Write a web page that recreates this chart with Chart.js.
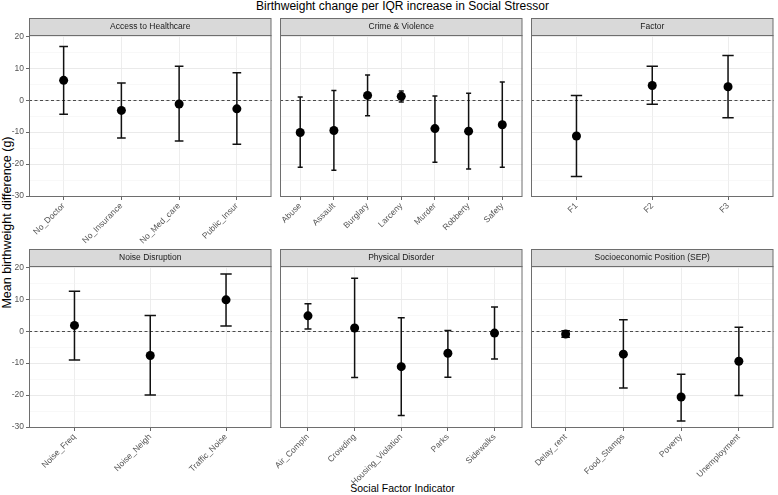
<!DOCTYPE html>
<html>
<head>
<meta charset="utf-8">
<script src="https://cdn.jsdelivr.net/npm/chart.js@4.4.1/dist/chart.umd.min.js"></script>
<style>
  body { margin: 0; background: #fff; }
  #wrap { position: relative; width: 778px; height: 495px; overflow: hidden;
          font-family: "Liberation Sans", Arial, sans-serif; color: #000; }
  #wrap canvas { position: absolute; }
  #mainTitle { position: absolute; left: 29px; width: 747px; top: -1px; font-size: 12px;
               line-height: 14px; text-align: center; }
  #xTitle { position: absolute; left: 29px; width: 747px; top: 482px; font-size: 10.5px;
            line-height: 13px; text-align: center; }
  #yTitle { position: absolute; left: -198px; width: 410px; top: 215px; font-size: 12.5px;
            line-height: 15px; text-align: center; transform: rotate(-90deg); }
</style>
</head>
<body>
<div id="wrap">
  <div id="mainTitle">Birthweight change per IQR increase in Social Stressor</div>
  <div id="yTitle">Mean birthweight difference (g)</div>
  <div id="xTitle">Social Factor Indicator</div>
</div>
<script>
/* ---------- данные (читаются с картинки) ---------- */
const panelTitles = ["Access to Healthcare", "Crime & Violence", "Factor",
                     "Noise Disruption", "Physical Disorder", "Socioeconomic Position (SEP)"];

const accessLabels = ["No_Doctor", "No_Insurance", "No_Med_care", "Public_Insur"];
const accessEst  = [6.2, -3.2, -1.2, -2.7];
const accessLow  = [-4.4, -11.8, -12.8, -13.8];
const accessHigh = [16.8, 5.4, 10.6, 8.6];

const crimeLabels = ["Abuse", "Assault", "Burglary", "Larceny", "Murder", "Robberty", "Safety"];
const crimeEst  = [-10.1, -9.5, 1.5, 1.2, -8.9, -9.7, -7.7];
const crimeLow  = [-21.0, -21.9, -4.9, -0.6, -19.4, -21.5, -21.0];
const crimeHigh = [1.0, 3.0, 7.9, 2.9, 1.3, 2.2, 5.7];

const factorLabels = ["F1", "F2", "F3"];
const factorEst  = [-11.2, 4.6, 4.2];
const factorLow  = [-23.9, -1.3, -5.5];
const factorHigh = [1.5, 10.6, 14.0];

const noiseLabels = ["Noise_Freq", "Noise_Neigh", "Traffic_Noise"];
const noiseEst  = [1.8, -7.6, 9.8];
const noiseLow  = [-9.0, -20.0, 1.6];
const noiseHigh = [12.5, 4.9, 17.9];

const physLabels = ["Air_Compln", "Crowding", "Housing_Violation", "Parks", "Sidewalks"];
const physEst  = [4.8, 1.0, -11.1, -6.9, -0.6];
const physLow  = [0.7, -14.5, -26.4, -14.4, -8.7];
const physHigh = [8.6, 16.6, 4.2, 0.2, 7.6];

const sepLabels = ["Delay_rent", "Food_Stamps", "Poverty", "Unemployment"];
const sepEst  = [-0.9, -7.2, -20.6, -9.4];
const sepLow  = [-1.9, -17.8, -28.1, -20.1];
const sepHigh = [0.1, 3.6, -13.5, 1.2];

const yTicks = [-30, -25, -20, -15, -10, -5, 0, 5, 10, 15, 20];
const yMin = -30.3, yMax = 20.4;
const refLine = 0;

/* ---------- раскладка панелей ---------- */
const colLeft = [29, 280, 531];
const stripTop = [18, 249];
const plotW = 245, plotH = 162, stripH = 17, yAxisW = 30, xAxisH = 70;

Chart.defaults.font.family = "'Liberation Sans', Arial, sans-serif";

const panels = [
  [accessLabels, accessEst, accessLow, accessHigh],
  [crimeLabels, crimeEst, crimeLow, crimeHigh],
  [factorLabels, factorEst, factorLow, factorHigh],
  [noiseLabels, noiseEst, noiseLow, noiseHigh],
  [physLabels, physEst, physLow, physHigh],
  [sepLabels, sepEst, sepLow, sepHigh]
];

// Плагин: пунктир по нулю, усы, рамка панели и полоска с заголовком
function facetPlugin(title, low, high) {
  return {
    id: "facet",
    beforeDatasetsDraw(chart) {
      const { ctx, chartArea: a, scales: { x, y } } = chart;
      ctx.save();
      ctx.strokeStyle = "#3a3a3a";
      ctx.lineWidth = 0.9;
      ctx.setLineDash([3, 2.5]);
      const y0 = Math.round(y.getPixelForValue(refLine)) + 0.5;
      ctx.beginPath();
      ctx.moveTo(a.left, y0);
      ctx.lineTo(a.right, y0);
      ctx.stroke();
      ctx.setLineDash([]);

      ctx.strokeStyle = "#111";
      ctx.lineWidth = 1.5;
      low.forEach((lo, i) => {
        const px = x.getPixelForValue(i);
        const w = x.getPixelForValue(i + 0.075) - px;
        const pl = y.getPixelForValue(lo);
        const ph = y.getPixelForValue(high[i]);
        ctx.beginPath();
        ctx.moveTo(px, pl); ctx.lineTo(px, ph);
        ctx.moveTo(px - w, pl); ctx.lineTo(px + w, pl);
        ctx.moveTo(px - w, ph); ctx.lineTo(px + w, ph);
        ctx.stroke();
      });
      ctx.restore();
    },
    afterDraw(chart) {
      const { ctx, chartArea: a } = chart;
      ctx.save();
      ctx.strokeStyle = "#6e6e6e";
      ctx.lineWidth = 1;
      ctx.strokeRect(a.left + 0.5, a.top + 0.5, a.width - 1, a.height - 1);
      ctx.fillStyle = "#d9d9d9";
      ctx.fillRect(a.left + 0.5, a.top - stripH + 0.5, a.width - 1, stripH);
      ctx.strokeRect(a.left + 0.5, a.top - stripH + 0.5, a.width - 1, stripH);
      ctx.fillStyle = "#1a1a1a";
      ctx.font = "8.5px 'Liberation Sans', Arial, sans-serif";
      ctx.textAlign = "center";
      ctx.textBaseline = "middle";
      ctx.fillText(title, (a.left + a.right) / 2, a.top - stripH / 2 + 0.5);
      ctx.restore();
    }
  };
}

const wrap = document.getElementById("wrap");

panels.forEach((p, k) => {
  const [labels, est, low, high] = p;
  const col = k % 3, row = Math.floor(k / 3);
  const showY = col === 0;

  const canvas = document.createElement("canvas");
  const cw = yAxisW + plotW + 2, ch = stripH + plotH + xAxisH;
  canvas.width = cw; canvas.height = ch;
  canvas.style.left = (colLeft[col] - yAxisW) + "px";
  canvas.style.top = stripTop[row] + "px";
  canvas.style.width = cw + "px";
  canvas.style.height = ch + "px";
  wrap.appendChild(canvas);

  new Chart(canvas, {
    type: "scatter",
    data: {
      datasets: [{
        data: est.map((v, i) => ({ x: i, y: v })),
        pointRadius: 4.5,
        pointBackgroundColor: "#000",
        pointBorderWidth: 0
      }]
    },
    options: {
      responsive: false,
      animation: false,
      layout: { padding: { top: stripH, right: 2, left: 0, bottom: 0 } },
      plugins: { legend: { display: false }, tooltip: { enabled: false } },
      scales: {
        x: {
          type: "linear",
          min: -0.6,
          max: labels.length - 0.4,
          afterBuildTicks: s => { s.ticks = labels.map((l, i) => ({ value: i })); },
          afterFit: s => { s.height = xAxisH; s.paddingLeft = 0; s.paddingRight = 0; },
          border: { display: false },
          grid: { color: "#ebebeb", lineWidth: 0.9, tickLength: 3, tickColor: "#555" },
          ticks: {
            autoSkip: false, minRotation: 45, maxRotation: 45, padding: 1,
            color: "#555", font: { size: 8.5 },
            callback: v => labels[v]
          }
        },
        y: {
          min: yMin,
          max: yMax,
          afterBuildTicks: s => { s.ticks = yTicks.map(v => ({ value: v })); },
          afterFit: s => { s.width = yAxisW; s.paddingTop = 0; s.paddingBottom = 0; },
          border: { display: false },
          grid: {
            color: c => (c.tick && c.tick.value % 10 === 0) ? "#e8e8e8" : "#f3f3f3",
            lineWidth: c => (c.tick && c.tick.value % 10 === 0) ? 0.9 : 0.6,
            drawTicks: showY,
            tickLength: 3,
            tickColor: c => (c.tick && c.tick.value % 10 === 0) ? "#555" : "rgba(0,0,0,0)"
          },
          ticks: {
            display: showY, padding: 2, color: "#555", font: { size: 8.5 },
            callback: v => (v % 10 === 0 ? String(v) : "")
          }
        }
      }
    },
    plugins: [facetPlugin(panelTitles[k], low, high)]
  });
});
</script>
</body>
</html>
